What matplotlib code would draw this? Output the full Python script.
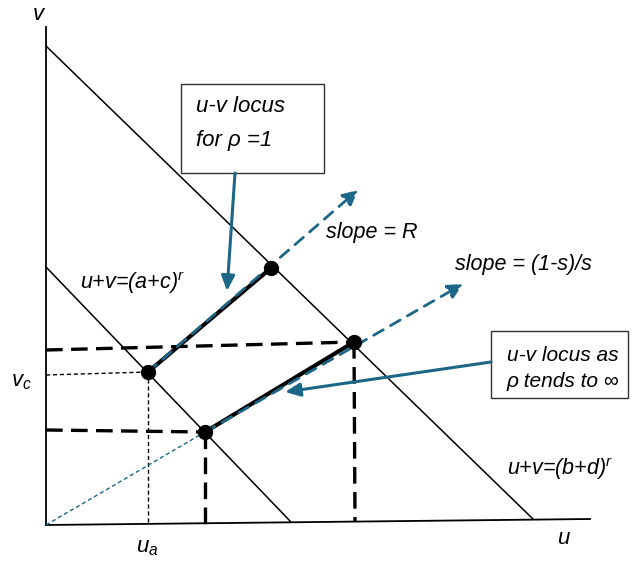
import matplotlib.pyplot as plt
from matplotlib.patches import Rectangle

plt.rcParams['mathtext.fontset'] = 'custom'
plt.rcParams['mathtext.it'] = 'Liberation Sans:italic'
plt.rcParams['mathtext.rm'] = 'Liberation Sans'

# diagram geometry in drawing units (x right, y down)
origin = (46, 525)
v_axis_top = (46, 27)
u_axis_end = (590, 519)
line_ac = [(46, 267), (291, 522)]      # u+v=(a+c)^r
line_bd = [(46, 46), (533, 519)]       # u+v=(b+d)^r

pt_a = (148, 372)    # rho = 1, low budget
pt_b = (271, 268)    # rho = 1, high budget
pt_c = (205, 432)    # rho -> inf, low budget
pt_d = (354, 342)    # rho -> inf, high budget

ray_R_tip = (358, 190)
ray_s_tip = (463, 284)

BLUE = '#1c6688'
FONT = ['Liberation Sans', 'DejaVu Sans']

fig = plt.figure(figsize=(6.44, 5.61), dpi=100)
ax = fig.add_axes([0, 0, 1, 1])
ax.set_xlim(0, 644)
ax.set_ylim(561, 0)
ax.axis('off')


def seg(p, q, **kw):
    ax.plot([p[0], q[0]], [p[1], q[1]], **kw)


# axes
seg(origin, v_axis_top, color='black', lw=1.3)
seg(origin, u_axis_end, color='black', lw=1.3)

# budget lines
seg(*line_ac, color='black', lw=1.1)
seg(*line_bd, color='black', lw=1.1)

# projections to the axes
thick_dash = dict(color='black', lw=2.4, dashes=(5, 2.5))
seg((46, 350), pt_d, **thick_dash)
seg(pt_d, (355, 522), **thick_dash)
seg((46, 430), pt_c, **thick_dash)
seg(pt_c, (205, 528), **thick_dash)

thin_dot = dict(color='black', lw=1.0, dashes=(3, 2))
seg((46, 375), pt_a, **thin_dot)
seg(pt_a, (148, 523), **thin_dot)

# loci
seg(pt_a, pt_b, color='black', lw=3.0, solid_capstyle='round')
seg(pt_c, pt_d, color='black', lw=3.0, solid_capstyle='round')

# rays through the loci
seg(origin, pt_c, color=BLUE, lw=1.0, dashes=(3, 2))
ax.annotate('', xy=ray_R_tip, xytext=pt_a,
            arrowprops=dict(arrowstyle='-|>,head_length=0.9,head_width=0.45',
                            color=BLUE, lw=2.0, linestyle=(0, (4, 3)),
                            shrinkA=0, shrinkB=0))
ax.annotate('', xy=ray_s_tip, xytext=pt_c,
            arrowprops=dict(arrowstyle='-|>,head_length=0.9,head_width=0.45',
                            color=BLUE, lw=2.0, linestyle=(0, (4, 3)),
                            shrinkA=0, shrinkB=0))

for p in (pt_a, pt_b, pt_c, pt_d):
    ax.plot(p[0], p[1], 'o', color='black', ms=10, zorder=5)

# call-out boxes
ax.add_patch(Rectangle((181, 84), 143, 89, fill=False, edgecolor='#333333', lw=1.0))
ax.add_patch(Rectangle((491, 331), 137, 67, fill=False, edgecolor='#333333', lw=1.0))
box = dict(style='italic', family=FONT, va='center')
ax.text(196, 106, 'u-v locus', fontsize=16, **box)
ax.text(196, 140, 'for ρ =1', fontsize=16, **box)
ax.text(507, 355, 'u-v locus as', fontsize=15, **box)
ax.text(507, 381, 'ρ tends to ∞', fontsize=15, **box)

ax.annotate('', xy=(227, 291), xytext=(235, 173),
            arrowprops=dict(arrowstyle='-|>,head_length=0.9,head_width=0.4',
                            color=BLUE, lw=2.2, shrinkA=0, shrinkB=0))
ax.annotate('', xy=(285, 392), xytext=(491, 362),
            arrowprops=dict(arrowstyle='-|>,head_length=0.9,head_width=0.4',
                            color=BLUE, lw=2.2, shrinkA=0, shrinkB=0))

# labels
lab = dict(style='italic', family=FONT, va='center')
ax.text(33, 14, 'v', fontsize=16, **lab)
ax.text(557, 538, 'u', fontsize=16, **lab)
ax.text(11, 381, r'$v_c$', fontsize=16, **lab)
ax.text(136, 548, r'$u_a$', fontsize=16, **lab)
ax.text(80, 283, 'u+v=(a+c)$^r$', fontsize=15.5, **lab)
ax.text(507, 469, 'u+v=(b+d)$^r$', fontsize=15.5, **lab)
ax.text(326, 232, 'slope = R', fontsize=15.5, **lab)
ax.text(455, 264, 'slope = (1-s)/s', fontsize=15.5, **lab)

fig.savefig('out.png', dpi=100)
